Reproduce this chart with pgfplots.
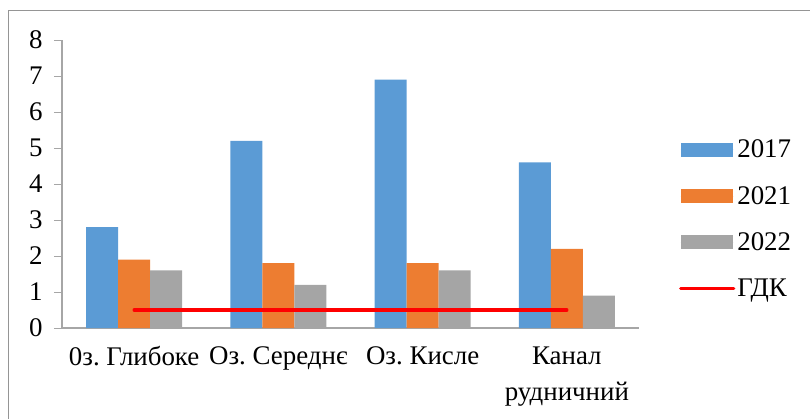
\documentclass[border=0pt]{standalone}
\usepackage{fontspec}
\setmainfont{Liberation Serif}
\usepackage{pgfplots}
\pgfplotsset{compat=1.18}
\definecolor{c17}{HTML}{5B9BD5}
\definecolor{c21}{HTML}{ED7D31}
\definecolor{c22}{HTML}{A5A5A5}
\definecolor{axg}{HTML}{A6A6A6}
\frenchspacing
\begin{document}
\begin{tikzpicture}[x=1bp,y=1bp]
\useasboundingbox (0,0) rectangle (810,418);
\draw[color=axg!90!black, line width=1.2bp] (8.5,-5) -- (8.5,407.5) -- (815,407.5);
\begin{axis}[
  at={(62bp,90bp)}, anchor=south west,
  scale only axis, width=577bp, height=288bp,
  xmin=-0.5, xmax=3.5, ymin=0, ymax=8,
  ytick={0,1,...,8},
  xtick={0,1,2,3},
  xticklabels={0з. Глибоке, Оз. Середнє, Оз. Кисле, {Канал\\рудничний}},
  x tick label style={align=center, yshift=-7bp},
  extra x ticks={-0.5,0.5,1.5,2.5,3.5},
  extra x tick labels={},
  extra x tick style={major tick length=8bp, tick style={color=axg, line width=1bp}, tick align=outside},
  major x tick style={draw=none},
  ytick style={color=axg, line width=1bp},
  major tick length=8bp,
  tick align=outside,
  axis x line*=bottom, axis y line*=left,
  axis line style={color=axg, line width=1.2bp, -},
  tick label style={font=\fontsize{27}{36}\selectfont},
  yticklabel style={xshift=-8bp},
  /pgf/number format/assume math mode=true,
  legend style={at={(1.064,0.378)}, anchor=west, draw=none, fill=none,
    font=\fontsize{27}{30}\selectfont, row sep=23bp,
    legend cell align=left},
  legend image code/.code={\fill[#1] (0bp,-7bp) rectangle (52bp,7bp); \path (0bp,0bp) -- (53bp,0bp);},
]
\addplot[ybar, bar width=32bp, bar shift=-32bp, fill=c17, draw=none] coordinates {(0,2.8) (1,5.2) (2,6.9) (3,4.6)};
\addlegendentry{2017}
\addplot[ybar, bar width=32bp, bar shift=0bp, fill=c21, draw=none] coordinates {(0,1.9) (1,1.8) (2,1.8) (3,2.2)};
\addlegendentry{2021}
\addplot[ybar, bar width=32bp, bar shift=32bp, fill=c22, draw=none] coordinates {(0,1.6) (1,1.2) (2,1.6) (3,0.9)};
\addlegendentry{2022}
\addplot[red, line width=3.2bp, line cap=round, mark=none, sharp plot,
  legend image code/.code={\draw[red, line width=3.2bp, line cap=round] (1bp,0bp) -- (51bp,0bp); \path (0bp,0bp) -- (53bp,0bp);}] coordinates {(0,0.5) (3,0.5)};
\addlegendentry{ГДК}
\end{axis}
\end{tikzpicture}
\end{document}
